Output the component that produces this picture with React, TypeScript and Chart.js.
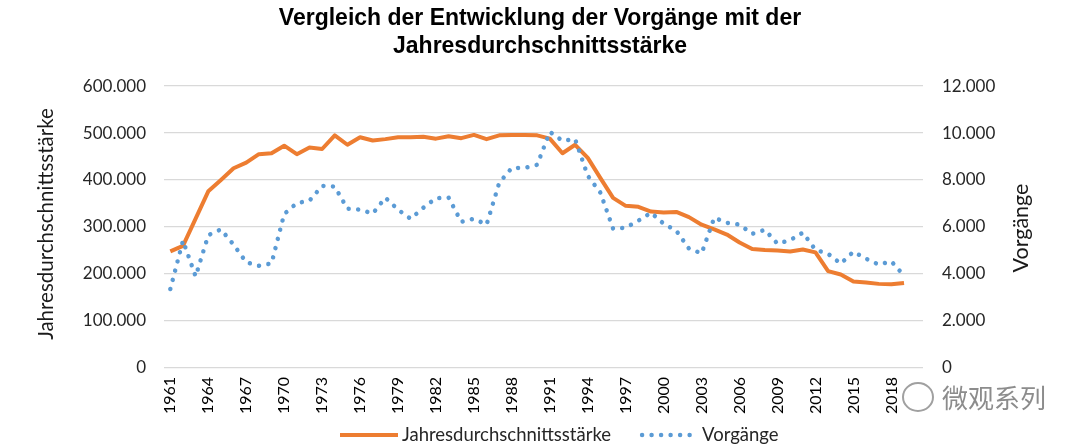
import React, { useEffect, useRef } from 'react';
import { Chart, registerables } from 'chart.js';

Chart.register(...registerables);

const titleLines = ['Vergleich der Entwicklung der Vorgänge mit der', 'Jahresdurchschnittsstärke'];
const leftAxisTitle = 'Jahresdurchschnittsstärke';
const rightAxisTitle = 'Vorgänge';
const seriesNames = ['Jahresdurchschnittsstärke', 'Vorgänge'];

const years = [
  '1961', '1962', '1963', '1964', '1965', '1966', '1967', '1968', '1969', '1970',
  '1971', '1972', '1973', '1974', '1975', '1976', '1977', '1978', '1979', '1980',
  '1981', '1982', '1983', '1984', '1985', '1986', '1987', '1988', '1989', '1990',
  '1991', '1992', '1993', '1994', '1995', '1996', '1997', '1998', '1999', '2000',
  '2001', '2002', '2003', '2004', '2005', '2006', '2007', '2008', '2009', '2010',
  '2011', '2012', '2013', '2014', '2015', '2016', '2017', '2018', '2019', '2020',
];

const staerke: (number | null)[] = [
  248000, 260000, 318000, 376000, 400000, 425000, 437000, 455000, 457000, 473000,
  455000, 469000, 466000, 495000, 475000, 491000, 484000, 487000, 491000, 491000,
  492000, 488000, 493000, 489000, 496000, 487000, 495000, 496000, 496000, 495000,
  488000, 457000, 475000, 447000, 404000, 362000, 345000, 343000, 333000, 331000,
  332000, 321000, 305000, 295000, 284000, 267000, 253000, 251000, 250000, 248000,
  252000, 246000, 206000, 199000, 184000, 182000, 179000, 178000, 181000, null,
];

const vorgaenge: (number | null)[] = [
  3360, 5420, 3900, 5650, 5900, 5250, 4500, 4350, 4450, 6550,
  7020, 7120, 7750, 7720, 6780, 6740, 6570, 7250, 6740, 6350,
  6820, 7230, 7250, 6220, 6350, 6100, 7880, 8520, 8510, 8650,
  10050, 9670, 9740, 8180, 7460, 5930, 5970, 6270, 6610, 6140,
  5840, 5080, 4880, 6400, 6180, 6100, 5710, 5880, 5290, 5440,
  5760, 5030, 4860, 4440, 4950, 4650, 4400, 4540, 3930, null,
];

const leftMax = 600000;
const leftStep = 100000;
const rightMax = 12000;
const rightStep = 2000;

const ORANGE = '#ED7D31';
const BLUE = '#5B9BD5';

function fmtDe(v: number): string {
  if (v === 0) return '0';
  const s = Math.round(v).toString();
  return s.replace(/\B(?=(\d{3})+(?!\d))/g, '.');
}

const overlayPlugin = {
  id: 'overlay',
  afterDraw(chart: any) {
    const ctx: CanvasRenderingContext2D = chart.ctx;
    const area = chart.chartArea;
    const midY = (area.top + area.bottom) / 2;
    ctx.save();
    ctx.fillStyle = '#1a1a1a';
    ctx.font = '20.5px Lato';
    ctx.textAlign = 'center';
    ctx.textBaseline = 'middle';
    ctx.save();
    ctx.translate(46, midY - 3);
    ctx.rotate(-Math.PI / 2);
    ctx.fillText(leftAxisTitle, 0, 0);
    ctx.restore();
    ctx.save();
    ctx.translate(1021, midY + 1);
    ctx.rotate(-Math.PI / 2);
    ctx.font = '21.5px Lato';
    ctx.fillText(rightAxisTitle, 0, 0);
    ctx.restore();

    // legend
    const ly = 435;
    ctx.font = '18.5px Lato';
    ctx.textAlign = 'left';
    ctx.fillStyle = '#262626';
    const colors = [ORANGE, BLUE];
    let x = 340;
    seriesNames.forEach((name, i) => {
      ctx.save();
      ctx.strokeStyle = colors[i];
      ctx.lineWidth = i === 0 ? 4 : 4.5;
      ctx.lineCap = i === 0 ? 'butt' : 'round';
      ctx.setLineDash(i === 0 ? [] : [0.01, 9.5]);
      ctx.beginPath();
      const len = i === 0 ? 58 : 52;
      ctx.moveTo(x + (i === 0 ? 0 : 2), ly);
      ctx.lineTo(x + len, ly);
      ctx.stroke();
      ctx.restore();
      const tx = x + len + (i === 0 ? 4 : 10);
      ctx.fillText(name, tx, ly);
      x = tx + ctx.measureText(name).width + 29;
    });
    ctx.restore();
  },
};

export default function App() {
  const ref = useRef<HTMLCanvasElement | null>(null);

  useEffect(() => {
    if (!ref.current) return;
    const chart = new Chart(ref.current, {
      type: 'line',
      data: {
        labels: years,
        datasets: [
          {
            label: seriesNames[0],
            data: staerke,
            yAxisID: 'y',
            borderColor: ORANGE,
            backgroundColor: ORANGE,
            borderWidth: 4,
            pointRadius: 0,
            tension: 0,
            borderJoinStyle: 'round',
            order: 1,
          },
          {
            label: seriesNames[1],
            data: vorgaenge,
            yAxisID: 'y2',
            borderColor: BLUE,
            backgroundColor: BLUE,
            borderWidth: 4.5,
            borderDash: [0.01, 9.5],
            borderCapStyle: 'round',
            pointRadius: 0,
            tension: 0,
            order: 0,
          },
        ],
      },
      options: {
        responsive: false,
        animation: false,
        devicePixelRatio: 1,
        layout: { padding: 0 },
        plugins: {
          legend: { display: false },
          tooltip: { enabled: false },
          title: {
            display: true,
            text: titleLines,
            color: '#000',
            font: { family: 'Liberation Sans', size: 23, weight: 'bold', lineHeight: 1.22 },
            padding: { top: 4.5, bottom: 25.4 },
          },
        },
        scales: {
          x: {
            type: 'category',
            offset: true,
            grid: { display: false, drawTicks: false },
            border: { display: false },
            ticks: {
              autoSkip: false,
              maxRotation: 90,
              minRotation: 90,
              padding: 9,
              color: '#000',
              font: { family: 'Lato', size: 16 },
              callback: (_v: any, i: number) => (i % 3 === 0 ? years[i] : ''),
            },
            afterFit: (s: any) => {
              s.height = 76;
            },
          },
          y: {
            position: 'left',
            min: 0,
            max: leftMax,
            grid: { color: '#d9d9d9', lineWidth: 1.3, drawTicks: false },
            border: { display: false },
            ticks: {
              stepSize: leftStep,
              padding: 18,
              color: '#262626',
              font: { family: 'Lato', size: 17 },
              callback: (v: any) => fmtDe(Number(v)),
            },
            afterFit: (s: any) => {
              s.width = 164;
            },
          },
          y2: {
            position: 'right',
            min: 0,
            max: rightMax,
            grid: { display: false, drawTicks: false },
            border: { display: false },
            ticks: {
              stepSize: rightStep,
              padding: 19,
              color: '#262626',
              font: { family: 'Lato', size: 17 },
              callback: (v: any) => fmtDe(Number(v)),
            },
            afterFit: (s: any) => {
              s.width = 157;
            },
          },
        },
      },
      plugins: [overlayPlugin],
    } as any);
    return () => chart.destroy();
  }, []);

  return (
    <div style={{ position: 'absolute', left: 0, top: 0, width: 1080, height: 444, background: '#fff' }}>
      <canvas ref={ref} width={1080} height={444} style={{ display: 'block' }} />
      <div
        style={{
          position: 'absolute',
          left: 902,
          top: 378,
          display: 'flex',
          alignItems: 'center',
          gap: 8,
          fontFamily: '"Noto Sans CJK SC", sans-serif',
          fontSize: 26,
          color: '#8c8c8c',
          textShadow: '0 0 3px #fff, 0 0 3px #fff',
        }}
      >
        <span
          style={{
            display: 'inline-block',
            width: 28,
            height: 26,
            borderRadius: '50%',
            border: '2px solid #a0a0a0',
            background: 'rgba(255,255,255,0.7)',
          }}
        />
        <span>微观系列</span>
      </div>
    </div>
  );
}
